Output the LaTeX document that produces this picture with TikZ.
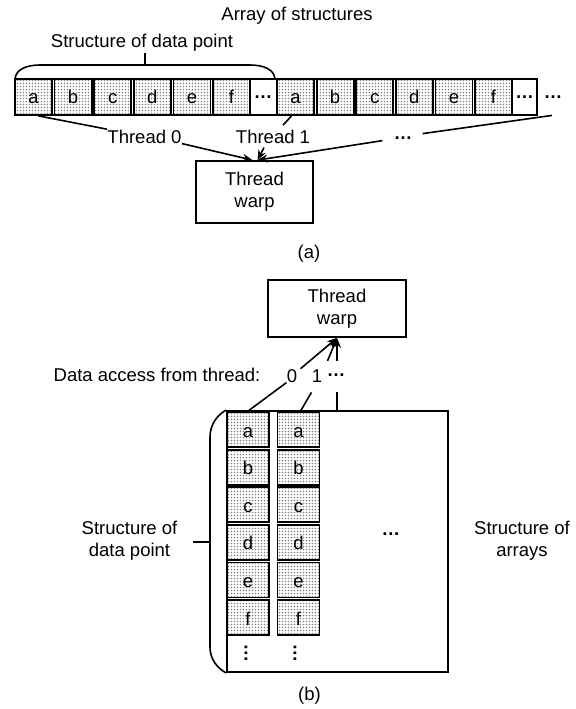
\documentclass[tikz,border=0pt]{standalone}
\usepackage{fontspec}
\setmainfont{Liberation Sans}
\usetikzlibrary{arrows.meta,patterns.meta,calc}

% fine grey dot raster used inside the data cells
\tikzdeclarepattern{
  name=celldots,
  type=uncolored,
  bottom left={(0pt,0pt)},
  top right={(1.7pt,1.7pt)},
  tile size={(1.7pt,1.7pt)},
  code={\pgfpathcircle{\pgfqpoint{0.85pt}{0.85pt}}{0.48pt}\pgfusepath{fill}}
}

\begin{document}
\begin{tikzpicture}[x=0.5pt,y=-0.5pt,
  every node/.style={font=\fontsize{9.25}{11}\selectfont, inner sep=0pt},
  cell/.style={draw, line width=0.9pt, pattern=celldots, pattern color=black!50,
    minimum width=18.5pt, minimum height=18pt, text height=6.5pt, text depth=0pt},
  cellv/.style={cell, minimum width=21pt, minimum height=17.5pt, text height=7.5pt},
  dotsym/.style={text height=1.5pt, text depth=0.5pt},
  frame/.style={draw, line width=0.9pt},
  box/.style={draw, line width=0.9pt, align=center},
  link/.style={line width=0.8pt},
  arr/.style={line width=0.8pt, -{Stealth[length=5pt,width=4pt]}}
]
\useasboundingbox (0,0) rectangle (576,709);

% ---------- (a) array of structures ----------
\node[frame, minimum width=261pt, minimum height=18pt] (aos) at (276,97) {};
\foreach \l [count=\i from 0] in {a,b,c,d,e,f} {
  \node[cell] (A\l) at ({33.5+39.6*\i},97) {\l};
  \node[cell] (B\l) at ({295.5+39.6*\i},97) {\l};
}
\node[dotsym] (Adots) at (263,97) {\textbf{…}};
\node[dotsym] (Bdots) at (524.5,97) {\textbf{…}};
\node[dotsym] (tail) at (553,97) {\textbf{…}};

% bracket over the first structure
\coordinate (brL) at (15,79);
\coordinate (brR) at (275,79);
\draw[link] (brL) .. controls (16,69) and (27,65) .. (40,65) -- (250,65)
  .. controls (263,65) and (274,69) .. (brR);
\draw[link] (145,65) -- (145,53);

\node[anchor=base] (aoslbl) at (297,20) {Array of structures};
\node[anchor=base] (sdplbl) at (142,47.5) {Structure of data point};
\node[anchor=base] (t0) at (144.5,143) {Thread 0};
\node[anchor=base] (t1) at (273,143) {Thread 1};
\node[anchor=base] (tdots) at (403,139) {\textbf{…}};

\node[box, minimum width=58.5pt, minimum height=31pt] (warpA) at (254.5,192) {Thread\\warp};

\draw[link] ($(Aa.south)+(5,0)$) -- (t0.north west);
\draw[arr] (t0.south east) -- ($(warpA.north)+(-2,0)$);
\draw[link] ($(Ba.south)+(-4,0)$) -- ($(t1.north)+(10,-4)$);
\draw[arr] ($(t1.south)+(-9,4)$) -- ($(warpA.north)+(3,0)$);
\draw[link] ($(tail.south)+(-1,16)$) -- ($(tdots.east)+(10,-4)$);
\draw[arr] ($(tdots.west)+(-11,3)$) -- ($(warpA.north)+(3,0)$);

\node[anchor=base] (capa) at (309,258) {(a)};

% ---------- (b) structure of arrays ----------
\node[box, minimum width=69pt, minimum height=28.5pt] (warpB) at (337,308.5) {Thread\\warp};

\node[anchor=base] (dalbl) at (157,381.5) {Data access from thread:};
\node[anchor=base] (z0) at (292,382) {0};
\node[anchor=base] (z1) at (317,382) {1};
\node[anchor=base] (zd) at (336,376) {\textbf{…}};

\node[frame, minimum width=110.5pt, minimum height=130.5pt] (soa) at (337.5,541.5) {};
\foreach \l [count=\i from 0] in {a,b,c,d,e,f} {
  \node[cellv] (C\l) at (248,{429.5+37.6*\i}) {\l};
  \node[cellv] (D\l) at (298.5,{429.5+37.6*\i}) {\l};
}
\node[rotate=90] (Cv) at (246,653) {\textbf{…}};
\node[rotate=90] (Dv) at (295,653) {\textbf{…}};
\node[anchor=base] (soadots) at (391,535) {\textbf{…}};

\draw[link] (Ca.north) -- (z0.south west);
\draw[arr] ($(z0.north east)+(3,0)$) -- (warpB.south);
\draw[link] ($(Da.north)+(2,0)$) -- ($(z1.south west)+(0,10)$);
\draw[arr] ($(z1.north east)+(5,-8)$) -- (warpB.south);
\draw[link] (soa.north -| warpB.south) -- ($(zd.south -| warpB.south)+(0,16)$);
\draw[arr] ($(warpB.south)+(0,23)$) -- (warpB.south);

% bracket along the first column
\draw[link] (soa.north west) .. controls (217,415) and (210,425) .. (210,437)
  -- (210,647) .. controls (210,659) and (217,668) .. (soa.south west);
\draw[link] (193,542) -- (210,542);

\node[align=center] (sdp2) at (129.5,541) {Structure of\\data point};
\node[align=center] (soalbl) at (522,541) {Structure of\\arrays};

\node[anchor=base] (capb) at (309.5,700) {(b)};
\end{tikzpicture}
\end{document}
